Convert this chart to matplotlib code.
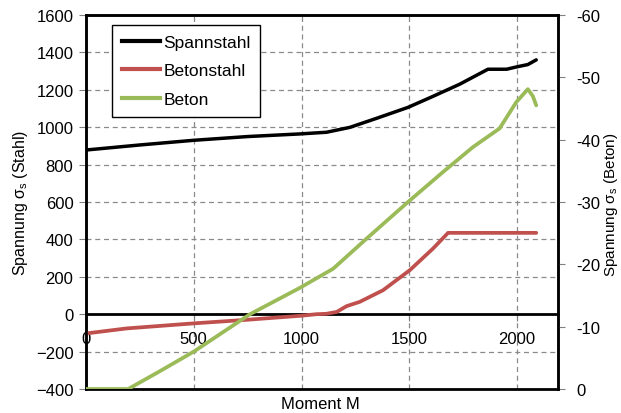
import matplotlib
matplotlib.use("Agg")
import matplotlib.pyplot as plt
from matplotlib.lines import Line2D

plt.rcParams["font.family"] = ["Liberation Sans", "DejaVu Sans"]
plt.rcParams["font.size"] = 12

# Spannstahl (prestressing steel), left axis
m_spann = [0, 250, 500, 750, 992, 1116, 1224, 1347, 1494, 1610, 1734, 1865, 1952, 1996, 2050, 2089]
s_spann = [878, 905, 930, 950, 964, 973, 999, 1047, 1106, 1165, 1230, 1310, 1310, 1322, 1335, 1360]

# Betonstahl (reinforcing steel), left axis
m_beton_st = [0, 189, 500, 745, 1000, 1069, 1114, 1163, 1209, 1270, 1378, 1502, 1610, 1680, 2089]
s_beton_st = [-103, -76, -49, -30, -8, 0, 2, 12, 43, 66, 128, 235, 351, 435, 435]

# Beton (concrete), right axis
m_beton = [0, 196, 350, 500, 761, 991, 1147, 1301, 1494, 1656, 1795, 1919, 1996, 2050, 2073, 2089]
s_beton = [0, 0, -3.0, -6.0, -12.0, -16.2, -19.3, -24.1, -30.0, -34.8, -38.8, -41.8, -46.0, -48.1, -47.0, -45.5]

labels = ["Spannstahl", "Betonstahl", "Beton"]
colors = ["black", "#C0504D", "#9BBB59"]

W, H = 621, 414
fig = plt.figure(figsize=(W / 100, H / 100), dpi=100)
x0, x1, y0, y1 = 86, 558, 16, 390
ax = fig.add_axes([x0 / W, 1 - y1 / H, (x1 - x0) / W, (y1 - y0) / H])

ax.plot(m_spann, s_spann, color=colors[0], lw=2.5, solid_capstyle="round", zorder=4)
ax.plot(m_beton_st, s_beton_st, color=colors[1], lw=2.7, solid_capstyle="round", zorder=3)

ax.set_xlim(0, 2190)
ax.set_ylim(-400, 1600)
ax.set_yticks(range(-400, 1601, 200))
ax.set_xticks([0, 500, 1000, 1500, 2000])
ax.grid(True, color="#8a8a8a", lw=0.9, ls=(0, (4, 3)))
ax.set_axisbelow(True)

# x axis sits on the zero line
ax.spines["bottom"].set_position(("data", 0))
for s in ax.spines.values():
    s.set_color("black")
    s.set_linewidth(1.8)
ax.spines["bottom"].set_linewidth(2)
ax.tick_params(axis="y", direction="out", length=5, color="#808080", pad=4)
ax.tick_params(axis="x", direction="out", length=5, color="#808080", pad=7)

ax2 = ax.twinx()
ax2.plot(m_beton, s_beton, color=colors[2], lw=2.7, solid_capstyle="round", zorder=5)
ax2.set_ylim(0, -60)
ax2.set_yticks(range(0, -61, -10))
ax2.set_yticklabels([str(v) for v in range(0, -61, -10)])
for s in ax2.spines.values():
    s.set_color("black")
    s.set_linewidth(1.8)
ax2.spines["bottom"].set_linewidth(2)
ax2.tick_params(axis="y", direction="out", length=5, color="#808080", pad=8)

fig.text(11 / W, 1 - 203 / H, "Spannung σ$_\\mathregular{s}$ (Stahl)", rotation=90,
         ha="left", va="center", fontsize=11.5)
fig.text(602 / W, 1 - 205 / H, "Spannung σ$_\\mathregular{s}$ (Beton)", rotation=90,
         ha="left", va="center", fontsize=11)
fig.text(320 / W, 1 - 405 / H, "Moment M", ha="center", va="center", fontsize=12)

handles = [Line2D([], [], color=c, lw=3) for c in colors]
leg = ax2.legend(handles, labels, loc="upper left",
                 bbox_to_anchor=(112 / W, 1 - 26 / H), bbox_transform=fig.transFigure,
                 borderaxespad=0, fancybox=False, framealpha=1, edgecolor="black",
                 handlelength=2.2, handletextpad=0.2, labelspacing=0.78,
                 borderpad=0.55, fontsize=12.5)
leg.get_frame().set_linewidth(1.0)
leg.set_zorder(10)

fig.savefig("out.png", dpi=100)
